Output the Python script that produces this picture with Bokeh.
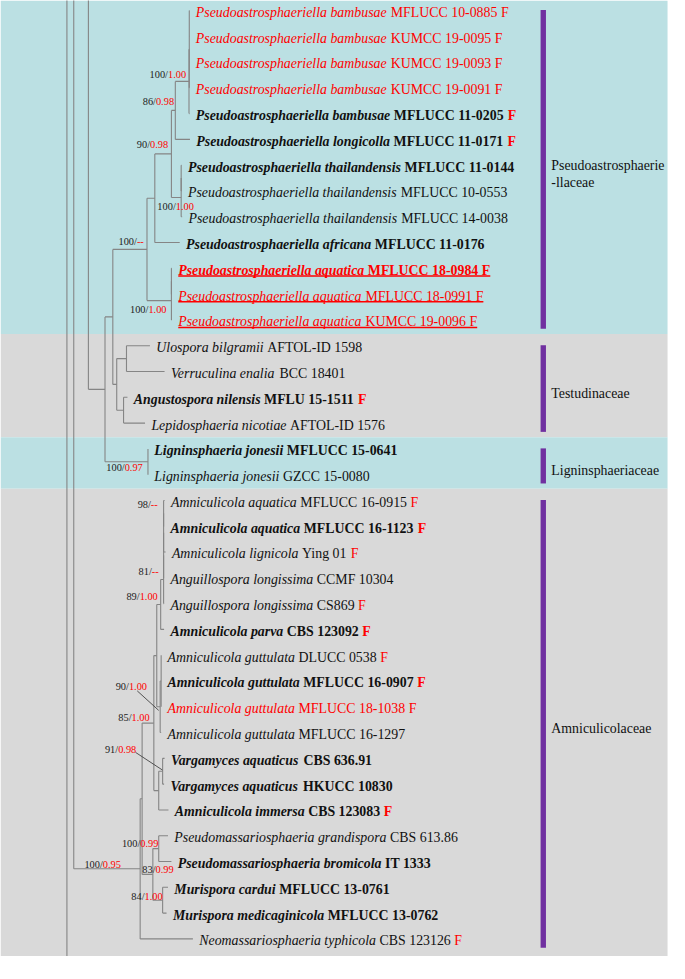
from bokeh.plotting import figure
from bokeh.models import Range1d
from bokeh.core.properties import value
from bokeh.embed import file_html
from bokeh.resources import INLINE

# ============================ DATA ============================
species = [
    "Pseudoastrosphaeriella bambusae", "Pseudoastrosphaeriella bambusae",
    "Pseudoastrosphaeriella bambusae", "Pseudoastrosphaeriella bambusae",
    "Pseudoastrosphaeriella bambusae", "Pseudoastrosphaeriella longicolla",
    "Pseudoastrosphaeriella thailandensis", "Pseudoastrosphaeriella thailandensis",
    "Pseudoastrosphaeriella thailandensis", "Pseudoastrosphaeriella africana",
    "Pseudoastrosphaeriella aquatica", "Pseudoastrosphaeriella aquatica",
    "Pseudoastrosphaeriella aquatica",
    "Ulospora bilgramii", "Verruculina enalia", "Angustospora nilensis",
    "Lepidosphaeria nicotiae",
    "Ligninsphaeria jonesii", "Ligninsphaeria jonesii",
    "Amniculicola aquatica", "Amniculicola aquatica", "Amniculicola lignicola",
    "Anguillospora longissima", "Anguillospora longissima", "Amniculicola parva",
    "Amniculicola guttulata", "Amniculicola guttulata", "Amniculicola guttulata",
    "Amniculicola guttulata", "Vargamyces aquaticus", "Vargamyces aquaticus",
    "Amniculicola immersa", "Pseudomassariosphaeria grandispora",
    "Pseudomassariosphaeria bromicola", "Murispora cardui",
    "Murispora medicaginicola", "Neomassariosphaeria typhicola",
]
strains = [
    "MFLUCC 10-0885", "KUMCC 19-0095", "KUMCC 19-0093", "KUMCC 19-0091",
    "MFLUCC 11-0205", "MFLUCC 11-0171", "MFLUCC 11-0144", "MFLUCC 10-0553",
    "MFLUCC 14-0038", "MFLUCC 11-0176", "MFLUCC 18-0984", "MFLUCC 18-0991",
    "KUMCC 19-0096", "AFTOL-ID 1598", "BCC 18401", "MFLU 15-1511",
    "AFTOL-ID 1576", "MFLUCC 15-0641", "GZCC 15-0080", "MFLUCC 16-0915",
    "MFLUCC 16-1123", "Ying 01", "CCMF 10304", "CS869", "CBS 123092",
    "DLUCC 0538", "MFLUCC 16-0907", "MFLUCC 18-1038", "MFLUCC 16-1297",
    "CBS 636.91", "HKUCC 10830", "CBS 123083", "CBS 613.86", "IT 1333",
    "MFLUCC 13-0761", "MFLUCC 13-0762", "CBS 123126",
]
ex_type      = [0,0,0,0,1,1,1,0,0,1,1,0,0, 0,0,1,0, 1,0, 0,1,0,0,0,1,0,1,0,0,1,1,1,0,1,1,1,0]
new_isolate  = [1,1,1,1,0,0,0,0,0,0,1,1,1, 0,0,0,0, 0,0, 0,0,0,0,0,0,0,0,1,0,0,0,0,0,0,0,0,0]
new_species  = [0,0,0,0,0,0,0,0,0,0,1,1,1, 0,0,0,0, 0,0, 0,0,0,0,0,0,0,0,0,0,0,0,0,0,0,0,0,0]
freshwater   = [1,1,1,1,1,1,0,0,0,0,1,1,1, 0,0,1,0, 0,0, 1,1,1,0,1,1,1,1,1,0,0,0,1,0,0,0,0,1]

# cumulative branch depth of every tip (tree units)
tip_depth = [193.5, 193.5, 193.5, 193.5, 193.5, 194, 185.5, 185.5, 186, 183.5,
             175.5, 175.5, 175.5, 153, 168, 130, 148, 151, 151,
             168, 167.5, 169, 167.5, 167.5, 167.5, 164.5, 164.5, 164.5, 164.5,
             168, 167.5, 172, 171.5, 175, 171.5, 170, 197]

# taxa outside the cropped view: (row, depth)
offview = {"outside_above": (-120, 100), "outside_below": (60, 100)}

# internal nodes: name -> (depth, children)
tree = {
    "bamb_in": (193.3, [0, 1, 2, 3]),
    "bamb":    (193.0, ["bamb_in", 4]),
    "n86":     (179.0, ["bamb", 5]),
    "thai_in": (185.0, [6, 7]),
    "thai":    (185.0, ["thai_in", 8]),
    "n90":     (175.0, ["n86", "thai"]),
    "n158":    (158.0, ["n90", 9]),
    "aq_in":   (175.0, [10, 11]),
    "aq":      (175.0, ["aq_in", 12]),
    "pseudo":  (150.0, ["n158", "aq"]),
    "ulo":     (129.0, [13, 14]),
    "ang":     (126.0, [15, 16]),
    "testud":  (119.0, ["ulo", "ang"]),
    "pt":      (115.0, ["pseudo", "testud"]),
    "lign":    (151.0, [17, 18]),
    "q":       (107.0, ["pt", "lign"]),
    "r1":      (90.0,  ["outside_above", "q"]),
    "ab":      (167.0, [19, 20]),
    "abc":     (167.0, ["ab", 21]),
    "abcd":    (167.0, ["abc", 22]),
    "i":       (167.0, ["abcd", 23]),
    "g":       (164.0, ["i", 24]),
    "gut_in":  (164.5, [25, 26, 27]),
    "h":       (163.5, ["gut_in", 28]),
    "e":       (160.0, ["g", "h"]),
    "varg":    (166.0, [29, 30]),
    "f":       (162.0, ["varg", 31]),
    "c":       (157.0, ["e", "f"]),
    "pm":      (162.0, [32, 33]),
    "mu":      (166.0, [34, 35]),
    "d":       (156.0, ["pm", "mu"]),
    "b":       (145.0, ["c", "d"]),
    "a":       (143.0, ["b", 36]),
    "r2":      (75.0,  ["r1", "a"]),
    "root":    (68.0,  ["r2", "outside_below"]),
}

support_nodes = ["bamb", "n86", "n90", "thai", "pseudo", "aq", "lign", "ab", "i",
                 "g", "h", "c", "varg", "pm", "a", "d", "mu"]
support_ml = ["100", "86", "90", "100", "100", "100", "100", "98", "81",
              "89", "90", "85", "91", "100", "100", "83", "84"]
support_pp = ["1.00", "0.98", "0.98", "1.00", "--", "1.00", "0.97", "--", "--",
              "1.00", "1.00", "1.00", "0.98", "0.99", "0.95", "0.99", "1.00"]

families = ["Pseudoastrosphaerie\n-llaceae", "Testudinaceae",
            "Ligninsphaeriaceae", "Amniculicolaceae"]
family_first = [0, 13, 17, 19]
family_last = [12, 16, 18, 36]

# ============================ LAYOUT / STYLE ============================
W_REF, H_REF = 685, 979
WIDTH = 669
S = WIDTH / W_REF
HEIGHT = int(round(H_REF * S))

ROW0, ROWSTEP = 10.2, 26.41
FS_TAXON, FS_SUPPORT, FS_FAMILY = 14.2, 10.6, 14.2
TEXT_GAP = 6.5
TEXT_DY = -4.0          # renderer baseline correction
BLACK, RED = "#111111", "#FF0000"
BRANCH = "#858585"
BAND_COLORS = ["#BBE0E3", "#D9D9D9", "#BBE0E3", "#D9D9D9"]
BAR_COLOR = "#7030A0"
BAR_LEFT, BAR_RIGHT, BAND_RIGHT, FAMILY_X = 553, 558.5, 683, 564
FAMILY_DY = 4.0

# label placement relative to node: (right-end dx, centre dy)
label_place = {"bamb": (-3, -7.8), "n86": (-1.3, -9.5), "n90": (-3.3, -10),
               "thai": (13, 9), "pseudo": (-3.3, -8.9), "aq": (-5, 8.7),
               "lign": (-5.3, 5.6), "ab": (-6, -9.5), "i": (-5, -8.9),
               "g": (-3, -8.5), "h": (-13.5, -21.3), "c": (-4.3, -6),
               "varg": (-27, -22.6), "pm": (-0.3, -5.8), "a": (-19.7, -5.3),
               "d": (21.3, -5.7), "mu": (0, -4.7)}
leaders = {"h": ((-23.5, -16.3), (-1.5, 3.7)), "varg": ((-27.7, -19.3), (-0.3, -1.3))}

# Times / Liberation Serif advance widths (1/1000 em)
UP = "ABCDEFGHIJKLMNOPQRSTUVWXYZ"
LO = "abcdefghijklmnopqrstuvwxyz"
def _tab(up, lo):
    t = dict(zip(UP, up)); t.update(zip(LO, lo))
    t.update({" ": 250, "-": 333, ".": 250, "/": 278})
    t.update({d: 500 for d in "0123456789"})
    return t
WIDTHS = {
    "normal": _tab([722,667,667,722,611,556,722,722,333,389,722,611,889,722,722,556,722,667,556,611,722,722,944,722,722,611],
                   [444,500,444,500,444,333,500,500,278,278,500,278,778,500,500,500,500,333,389,278,500,500,722,500,500,444]),
    "italic": _tab([611,611,667,722,611,611,722,722,333,444,667,556,833,667,722,611,722,611,500,556,722,611,833,611,556,556],
                   [500,500,444,500,444,278,500,500,278,278,444,278,722,500,500,500,500,389,389,278,500,444,667,444,444,389]),
    "bold": _tab([722,667,722,722,667,611,778,778,389,500,778,667,944,722,778,611,778,722,556,667,722,722,1000,722,722,667],
                 [500,556,444,556,444,333,500,556,278,333,556,278,833,556,500,556,556,444,389,333,556,500,722,500,500,444]),
    "bold italic": _tab([667,667,667,722,667,667,722,778,389,500,667,611,889,722,722,611,722,667,556,611,722,667,889,667,611,611],
                        [500,500,444,500,444,333,500,556,278,278,500,278,778,556,500,500,500,389,389,278,556,444,667,500,444,389]),
}
def tw(s, style, fs):
    return sum(WIDTHS[style].get(ch, 500) for ch in s) * fs / 1000.0

def leaf_y(r):
    return ROW0 + r * ROWSTEP

# ---- tree coordinates ----
pos = {}
def place(n):
    if n in pos:
        return pos[n]
    if isinstance(n, int):
        pos[n] = (tip_depth[n], leaf_y(n))
    elif n in offview:
        r, d = offview[n]
        pos[n] = (d, leaf_y(r))
    else:
        d, ch = tree[n]
        ys = [place(c)[1] for c in ch]
        pos[n] = (d, (min(ys) + max(ys)) / 2)
    return pos[n]
for n in tree:
    place(n)

bx0, by0, bx1, by1 = [], [], [], []
for n, (d, ch) in tree.items():
    ys = [pos[c][1] for c in ch]
    bx0.append(d); by0.append(min(ys)); bx1.append(d); by1.append(max(ys))
    for c in ch:
        cx, cy = pos[c]
        bx0.append(d); by0.append(cy); bx1.append(cx); by1.append(cy)

# ============================ FIGURE ============================
p = figure(width=WIDTH, height=HEIGHT, x_range=Range1d(0, W_REF), y_range=Range1d(H_REF, 0),
           output_backend="svg", toolbar_location=None, min_border=0,
           x_axis_location=None, y_axis_location=None)
p.grid.visible = False
p.outline_line_color = None
p.background_fill_color = "white"
p.border_fill_color = "white"

FONT = value("Liberation Serif")
def fpx(fs):
    return value(f"{fs * S:.2f}px")

# ---- family bands, bars and labels ----
n_fam = len(families)
centers = [leaf_y(r) + 1.3 for r in range(len(species))]
tops, bottoms = [], []
for k in range(n_fam):
    top = 0 if k == 0 else (centers[family_last[k - 1]] + centers[family_first[k]]) / 2
    bot = H_REF if k == n_fam - 1 else (centers[family_last[k]] + centers[family_first[k + 1]]) / 2
    tops.append(top); bottoms.append(bot)
p.quad(left=[0] * n_fam, right=[BAND_RIGHT] * n_fam, top=tops, bottom=bottoms,
       fill_color=BAND_COLORS, line_color=None)

bar_top = [leaf_y(family_first[k]) - 0.5 for k in range(n_fam)]
bar_bot = [leaf_y(family_last[k]) + 9 for k in range(n_fam)]
p.quad(left=[BAR_LEFT] * n_fam, right=[BAR_RIGHT] * n_fam, top=bar_top, bottom=bar_bot,
       fill_color=BAR_COLOR, line_color=None)

fx, fy, ft = [], [], []
for k, name in enumerate(families):
    lines = name.split("\n")
    cy = (bar_top[k] + bar_bot[k]) / 2 + FAMILY_DY
    for j, ln in enumerate(lines):
        fx.append(FAMILY_X)
        fy.append(cy + (j - (len(lines) - 1) / 2) * 17 + 0.33 * FS_FAMILY + TEXT_DY)
        ft.append(ln)
p.text(x=fx, y=fy, text=ft, text_font=FONT, text_font_size=fpx(FS_FAMILY),
       text_color=BLACK, text_align="left", text_baseline="alphabetic")

# ---- branches ----
p.segment(x0=bx0, y0=by0, x1=bx1, y1=by1, line_color=BRANCH, line_width=1.1)

# ---- taxon labels ----
groups = {st: dict(x=[], y=[], text=[], color=[]) for st in WIDTHS}
ux0, ux1, uy = [], [], []
for r in range(len(species)):
    bold = bool(ex_type[r])
    col = RED if new_isolate[r] else BLACK
    sp_style = "bold italic" if bold else "italic"
    st_style = "bold" if bold else "normal"
    x = tip_depth[r] + TEXT_GAP
    x_start = x
    base = leaf_y(r) + 1.3 + 0.331 * FS_TAXON
    y = base + TEXT_DY
    g = groups[sp_style]
    g["x"].append(x); g["y"].append(y); g["text"].append(species[r]); g["color"].append(col)
    x += tw(species[r], sp_style, FS_TAXON) + tw(" ", st_style, FS_TAXON)
    g = groups[st_style]
    g["x"].append(x); g["y"].append(y); g["text"].append(strains[r]); g["color"].append(col)
    x += tw(strains[r], st_style, FS_TAXON)
    if freshwater[r]:
        x += tw(" ", st_style, FS_TAXON)
        g["x"].append(x); g["y"].append(y); g["text"].append("F"); g["color"].append(RED)
        x += tw("F", st_style, FS_TAXON)
    if new_species[r]:
        ux0.append(x_start); ux1.append(x); uy.append(base + 1.8)
for st, g in groups.items():
    if g["x"]:
        p.text(x="x", y="y", text="text", text_color="color", source=g,
               text_font=FONT, text_font_size=fpx(FS_TAXON), text_font_style=st,
               text_align="left", text_baseline="alphabetic")
p.segment(x0=ux0, y0=uy, x1=ux1, y1=uy, line_color=RED, line_width=1.4)

# ---- support values ----
kx, ky, kt, rx, ry, rt = [], [], [], [], [], []
lx0, ly0, lx1, ly1 = [], [], [], []
for n, ml, pp in zip(support_nodes, support_ml, support_pp):
    nx, ny = pos[n]
    dx, dy = label_place[n]
    xr = nx + dx
    yb = ny + dy + 0.33 * FS_SUPPORT + TEXT_DY * FS_SUPPORT / FS_TAXON
    rx.append(xr); ry.append(yb); rt.append(pp)
    kx.append(xr - tw(pp, "normal", FS_SUPPORT)); ky.append(yb); kt.append(ml + "/")
    if n in leaders:
        (a0, b0), (a1, b1) = leaders[n]
        lx0.append(nx + a0); ly0.append(ny + b0); lx1.append(nx + a1); ly1.append(ny + b1)
p.text(x=kx, y=ky, text=kt, text_font=FONT, text_font_size=fpx(FS_SUPPORT),
       text_color="#222222", text_align="right", text_baseline="alphabetic")
p.text(x=rx, y=ry, text=rt, text_font=FONT, text_font_size=fpx(FS_SUPPORT),
       text_color=RED, text_align="right", text_baseline="alphabetic")
p.segment(x0=lx0, y0=ly0, x1=lx1, y1=ly1, line_color="#444444", line_width=0.9)

open("out.html", "w").write(file_html(p, INLINE))
